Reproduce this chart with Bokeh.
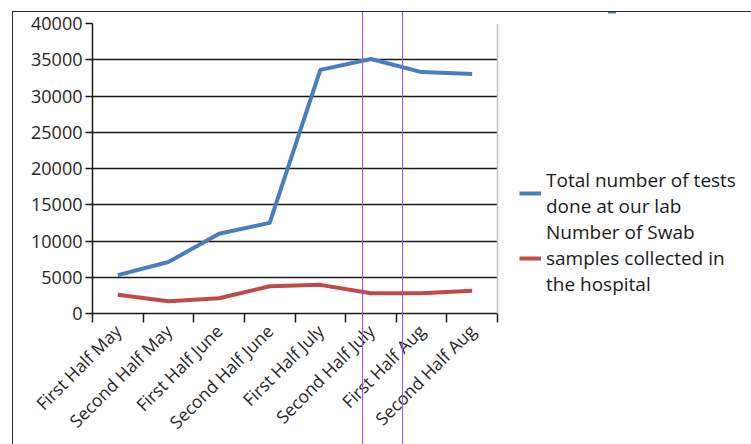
from math import pi

from bokeh.embed import file_html
from bokeh.models import (BoxAnnotation, FixedTicker, InlineStyleSheet, Legend,
                          LegendItem, LinearAxis, Range1d, Span)
from bokeh.plotting import figure
from bokeh.resources import INLINE

# Half-month periods on the x axis
periods = [
    "First Half May", "Second Half May",
    "First Half June", "Second Half June",
    "First Half July", "Second Half July",
    "First Half Aug", "Second Half Aug",
]

# Series values
tests_done = [5300, 7100, 11000, 12500, 33600, 35100, 33300, 33050]
swabs_collected = [2600, 1700, 2100, 3750, 3950, 2800, 2800, 3150]

# Value axis ticks
y_ticks = [0, 5000, 10000, 15000, 20000, 25000, 30000, 35000, 40000]

series_labels = [
    "Total number of tests\ndone at our lab",
    "Number of Swab\nsamples collected in\nthe hospital",
]

FONT = "Open Sans"
TEXT = "#262626"

W, H = 751, 444
LEFT, TOP = 92, 23          # frame origin on the canvas
PLOT_RIGHT = 497            # where the period slots end; the legend lives beyond

# each period occupies one unit slot; points sit in the middle of their slot
n = len(periods)
slot_mid = [i + 0.5 for i in range(n)]
edges = list(range(n + 1))
x_end = n * (W - LEFT) / (PLOT_RIGHT - LEFT)

# page frame lines and guide marks drawn over the canvas
overlay_css = InlineStyleSheet(css="""
:host { position: relative; }
:host::after {
  content: "";
  position: absolute;
  left: 12px; top: 11px; right: 0; bottom: 0;
  border-left: 1.5px solid #2b2b2b;
  border-top: 1.5px solid #2b2b2b;
  background:
    linear-gradient(#a54bff, #a54bff) 350.2px 0 / 1.3px 100% no-repeat,
    linear-gradient(#a54bff, #a54bff) 390.2px 0 / 1.3px 100% no-repeat,
    linear-gradient(#3b7ddd, #3b7ddd) 596px 0 / 8px 2.5px no-repeat;
  background-origin: border-box;
  pointer-events: none;
}
""")

p = figure(
    width=W, height=H,
    x_range=Range1d(0, x_end), y_range=Range1d(0, 40000),
    x_axis_location=None,
    output_backend="svg", toolbar_location=None,
    min_border_left=LEFT, min_border_right=0,
    min_border_top=TOP, min_border_bottom=0,
    background_fill_color="white", border_fill_color="white",
)
p.stylesheets = [overlay_css]
p.outline_line_color = None

# value axis
ya = p.yaxis[0]
ya.ticker = FixedTicker(ticks=y_ticks, minor_ticks=[])
ya.major_tick_in = 0
ya.major_tick_out = 7
ya.minor_tick_line_color = None
ya.axis_line_color = "#1a1a1a"
ya.axis_line_width = 1.5
ya.major_tick_line_color = "#1a1a1a"
ya.major_tick_line_width = 1.5
ya.major_label_standoff = 3
ya.major_label_text_font = FONT
ya.major_label_text_font_size = "18px"
ya.major_label_text_color = TEXT

p.ygrid.ticker = FixedTicker(ticks=y_ticks, minor_ticks=[])
p.ygrid.grid_line_color = "#1a1a1a"
p.ygrid.grid_line_width = 1.5
p.xgrid.visible = False

# blank legend area to the right of the slots, closed by a light border
p.add_layout(BoxAnnotation(left=n, fill_color="white", fill_alpha=1, line_color=None))
p.add_layout(Span(location=n, dimension="height", line_color="#c4c4c4", line_width=1.5))

# tick marks on the boundaries between periods
edge_axis = LinearAxis(
    ticker=FixedTicker(ticks=edges, minor_ticks=[]),
    major_label_overrides={e: "" for e in edges},
    bounds=(0, n),
    major_label_standoff=0,
    major_tick_in=0, major_tick_out=9,
    major_tick_line_color="#1a1a1a", major_tick_line_width=1.5,
    minor_tick_line_color=None,
    axis_line_color="#1a1a1a", axis_line_width=1.5,
)
p.add_layout(edge_axis, "below")

# period names, slanted, under the middle of each slot
name_axis = LinearAxis(
    ticker=FixedTicker(ticks=slot_mid, minor_ticks=[]),
    major_label_overrides={m: name for m, name in zip(slot_mid, periods)},
    major_tick_in=0, major_tick_out=0,
    major_tick_line_color=None, minor_tick_line_color=None,
    axis_line_color=None,
    major_label_orientation=pi / 4,
    major_label_standoff=5,
    major_label_text_font=FONT,
    major_label_text_font_size="17.5px",
    major_label_text_color=TEXT,
)
p.add_layout(name_axis, "below")

r_tests = p.line(slot_mid, tests_done, line_color="#4a7ebb", line_width=4, line_join="round")
r_swabs = p.line(slot_mid, swabs_collected, line_color="#be4b48", line_width=4, line_join="round")

# legend to the right of the period slots
legend = Legend(
    items=[LegendItem(label=series_labels[0], renderers=[r_tests]),
           LegendItem(label=series_labels[1], renderers=[r_swabs])],
    location=(427, 16),
    margin=0, padding=0, spacing=0,
    glyph_width=22, glyph_height=20, label_standoff=5,
    label_text_font=FONT, label_text_font_size="19px",
    label_text_color="#1a1a1a", label_text_line_height=1.35,
    border_line_color=None, background_fill_alpha=0,
)
p.add_layout(legend)

open("out.html", "w").write(file_html(p, INLINE))
